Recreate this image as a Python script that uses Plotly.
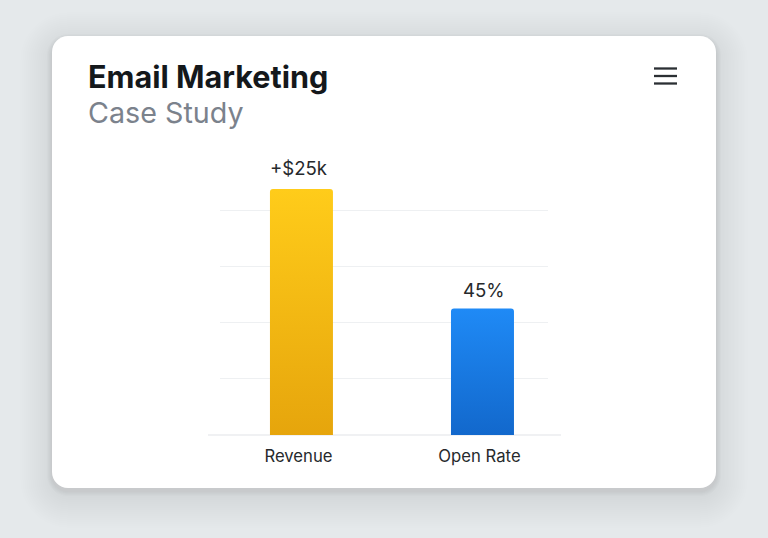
import plotly.graph_objs as go

W, H = 768, 538

categories = ["Revenue", "Open Rate"]
# revenue has no readable scale, so its value is estimated from bar height against the grid
values = [87.5, 45]
value_labels = ["+$25k", "45%"]
grid_vals = [0, 20, 40, 60, 80]
title_text = "Email Marketing"
subtitle_text = "Case Study"

FONT = "Inter"

def px_x (x):
    return x / W

def px_y (y):
    return 1 - y / H

def round_rect (x0, y0, x1, y1, r):
    # rounded rectangle path in paper coords, from pixel positions
    k = 0.45 * r
    p = lambda x, y: f"{px_x(x):.5f},{px_y(y):.5f}"
    return (
        f"M {p(x0+r, y0)} L {p(x1-r, y0)} "
        f"C {p(x1-k, y0)} {p(x1, y0+k)} {p(x1, y0+r)} "
        f"L {p(x1, y1-r)} C {p(x1, y1-k)} {p(x1-k, y1)} {p(x1-r, y1)} "
        f"L {p(x0+r, y1)} C {p(x0+k, y1)} {p(x0, y1-k)} {p(x0, y1-r)} "
        f"L {p(x0, y0+r)} C {p(x0, y0+k)} {p(x0+k, y0)} {p(x0+r, y0)} Z"
    )

shapes = []

# soft card shadow, stack of faint rounded rects
for i in range(16, 0, -1):
    d = i * 2.0
    shapes.append(dict(
        type="path", xref="paper", yref="paper", layer="below",
        path=round_rect(52-d, 36-d+8, 716+d, 488+d+8, 16+d),
        fillcolor="rgba(100,115,125,0.005)", line=dict(width=0),
    ))
for i in range(5, 0, -1):
    d = i * 1.0
    shapes.append(dict(
        type="path", xref="paper", yref="paper", layer="below",
        path=round_rect(52-d, 36-d+3, 716+d, 488+d+3, 16+d),
        fillcolor="rgba(100,115,125,0.02)", line=dict(width=0),
    ))
# card
shapes.append(dict(
    type="path", xref="paper", yref="paper", layer="below",
    path=round_rect(52, 36, 716, 488, 16),
    fillcolor="#ffffff", line=dict(width=0),
))
# baseline runs a bit wider than the grid
shapes.append(dict(
    type="line", xref="paper", yref="paper", layer="below",
    x0=px_x(208), x1=px_x(561), y0=px_y(435), y1=px_y(435),
    line=dict(color="#e1e4e7", width=1.2),
))
# hamburger icon
for yy in [68.5, 76, 83.5]:
    shapes.append(dict(
        type="line", xref="paper", yref="paper",
        x0=px_x(654), x1=px_x(677), y0=px_y(yy), y1=px_y(yy),
        line=dict(color="#2b2f33", width=2.3),
    ))

fig = go.Figure()
fig.add_trace(go.Bar(
    x=categories,
    y=values,
    width=0.348,
    marker=dict(color=["#f5b914", "#1a7ce6"], line=dict(width=0)),
    cliponaxis=False,
    hoverinfo="skip",
))

annotations = [
    dict(xref="paper", yref="paper", x=px_x(86), y=px_y(113), text=subtitle_text,
         showarrow=False, xanchor="left", yanchor="middle",
         font=dict(family=FONT, size=28.7, color="#7b828c")),
]
# the two value labels do not sit at the same gap above their bars
label_shifts = [(-2.5, 8), (1.5, 5)]
for c, v, t, (sx, sy) in zip(categories, values, value_labels, label_shifts):
    annotations.append(dict(
        x=c, y=v, text=t, showarrow=False, yanchor="bottom", xshift=sx, yshift=sy,
        font=dict(family=FONT, size=18.6, color="#26292c"),
    ))

fig.update_layout(
    autosize=False,
    width=W,
    height=H,
    margin=dict(l=0, r=0, t=0, b=0),
    paper_bgcolor="#e5e9eb",
    plot_bgcolor="rgba(0,0,0,0)",
    showlegend=False,
    barcornerradius=3,
    title=dict(
        text=f"<b>{title_text}</b>",
        x=px_x(88), xanchor="left", xref="paper",
        y=px_y(77), yanchor="middle", yref="paper",
        font=dict(family=FONT, size=30.6, color="#14181b"),
    ),
    shapes=shapes,
    annotations=annotations,
    xaxis=dict(
        domain=[px_x(220), px_x(548)],
        type="category",
        range=[-0.450, 1.362],
        showgrid=False,
        showline=False,
        zeroline=False,
        ticks="outside",
        ticklen=6,
        tickcolor="rgba(0,0,0,0)",
        ticklabelshift=-3,
        tickfont=dict(family=FONT, size=16.7, color="#26292c"),
    ),
    yaxis=dict(
        domain=[px_y(435), px_y(160)],
        range=[0, 97.8],
        tickvals=grid_vals,
        showticklabels=False,
        showgrid=True,
        gridcolor="#eef0f2",
        gridwidth=1,
        zeroline=False,
        showline=False,
    ),
)

# plotly bars take no gradient, so swap the fill once drawn
post_script = """
document.body.style.margin = '0';
var gd = document.getElementById('{plot_id}');
var svg = gd.querySelector('svg.main-svg');
var NS = 'http://www.w3.org/2000/svg';
var grads = [['barA', '#ffcc1a', '#e6a50c'], ['barB', '#1f8af6', '#1268cc']];
var defs = svg.querySelector('defs');
grads.forEach(function (g) {
    var lg = document.createElementNS(NS, 'linearGradient');
    lg.setAttribute('id', g[0]);
    lg.setAttribute('x1', '0'); lg.setAttribute('y1', '0');
    lg.setAttribute('x2', '0'); lg.setAttribute('y2', '1');
    [[0, g[1]], [1, g[2]]].forEach(function (s) {
        var st = document.createElementNS(NS, 'stop');
        st.setAttribute('offset', s[0]);
        st.setAttribute('stop-color', s[1]);
        lg.appendChild(st);
    });
    defs.appendChild(lg);
});
gd.querySelectorAll('.bars .point path').forEach(function (p, i) {
    p.style.fill = 'url(#' + grads[i][0] + ')';
});
"""

fig.write_html("out.html", post_script=post_script, config=dict(displayModeBar=False))
